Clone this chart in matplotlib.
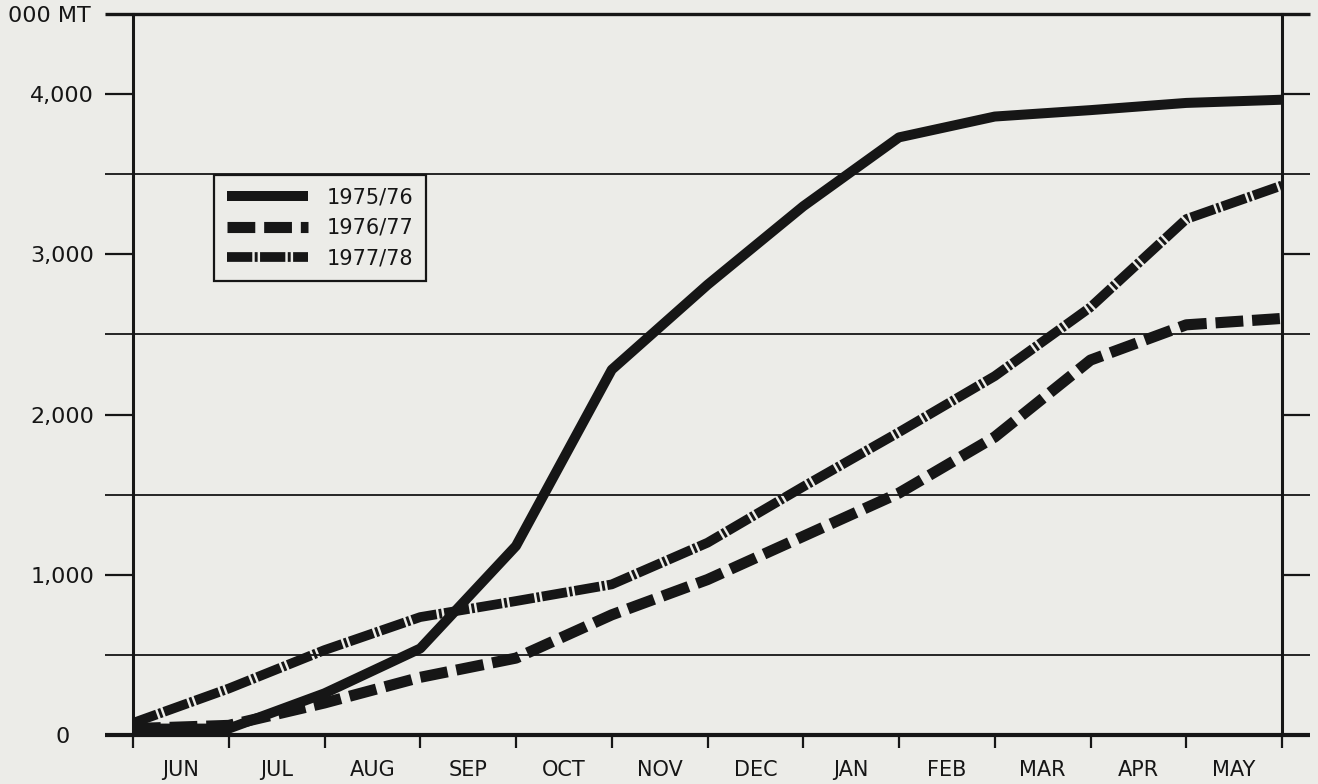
"""
Cumulative exports 1975/76 - 1977/78, thousand metric tons, by marketing month
(June-May). Redrawn from an old scanned report chart.
"""
import matplotlib
matplotlib.use('Agg')
import matplotlib.pyplot as plt
from matplotlib.transforms import blended_transform_factory

plt.rcParams['font.family'] = ['DejaVu Sans']

# ---- data (value at each month end) -----------------------------------------
months = ["JUN", "JUL", "AUG", "SEP", "OCT", "NOV",
          "DEC", "JAN", "FEB", "MAR", "APR", "MAY"]
month_ends = list(range(13))
y_1975_76 = [40, 40, 260, 540, 1180, 2280, 2810, 3300, 3730, 3860, 3900, 3945, 3965]
y_1976_77 = [40, 60, 200, 360, 480, 750, 970, 1240, 1510, 1860, 2340, 2560, 2600]
y_1977_78 = [75, 290, 530, 736, 836, 940, 1200, 1550, 1890, 2240, 2670, 3220, 3430]
y_ticks = [0, 1000, 2000, 3000, 4000]
y_tick_labels = ["0", "1,000", "2,000", "3,000", "4,000"]
grid_levels = [500, 1500, 2500, 3500]

BG = '#ECECE8'
INK = '#161616'

fig = plt.figure(figsize=(13.18, 7.84), dpi=100, facecolor=BG)
ax = fig.add_axes([133/1318, 49/784, 1149/1318, 721/784], facecolor=BG)
ax.set_xlim(0, 12)
ax.set_ylim(0, 4500)

# Horizontal rules stick out past both side axes
trans = blended_transform_factory(ax.transAxes, ax.transData)
ext = 28 / 1149
ax.hlines(grid_levels, -ext, 1 + ext, transform=trans, colors=INK, lw=1.3,
          clip_on=False, zorder=1)
ax.hlines([0], -ext, 1 + ext, transform=trans, colors=INK, lw=3.0,
          clip_on=False, zorder=5)
ax.hlines([4500], -ext, 1 + ext, transform=trans, colors=INK, lw=2.4,
          clip_on=False, zorder=5)

for side in ('top', 'bottom'):
    ax.spines[side].set_visible(False)
for side in ('left', 'right'):
    ax.spines[side].set_linewidth(2.2)
    ax.spines[side].set_color(INK)

# ---- series ----------------------------------------------------------------
l1, = ax.plot(month_ends, y_1975_76, color=INK, lw=7.2, solid_joinstyle='round',
              solid_capstyle='butt', zorder=4, label='1975/76')
l2, = ax.plot(month_ends, y_1976_77, color=INK, lw=8, dashes=(2.5, 0.8),
              dash_capstyle='butt', dash_joinstyle='round', zorder=3, label='1976/77')
l3, = ax.plot(month_ends, y_1977_78, color=INK, lw=7, dashes=(2.6, 0.25, 0.3, 0.25),
              dash_capstyle='butt', dash_joinstyle='round', zorder=3, label='1977/78')

# ---- axes ticks ------------------------------------------------------------
ax.set_yticks(y_ticks)
ax.set_yticklabels(y_tick_labels, fontsize=16, color=INK)
ax.tick_params(axis='y', which='major', direction='out', length=20, width=1.6,
               left=True, right=True, color=INK, pad=31)
for lab in ax.get_yticklabels():
    lab.set_ha('center')

ax.set_xticks(month_ends)
ax.set_xticklabels([])
ax.set_xticks([m + 0.5 for m in range(12)], minor=True)
ax.set_xticklabels(months, minor=True, fontsize=15, color=INK)
ax.tick_params(axis='x', which='major', direction='out', length=9, width=1.6, color=INK)
ax.tick_params(axis='x', which='minor', length=0, pad=18)

fig.text(8/1318, 1 - 16/784, "000 MT", fontsize=16, color=INK, ha='left', va='center')

leg = ax.legend(handles=[l1, l2, l3], loc='upper left',
                bbox_to_anchor=((214-133)/1149, (735-175)/721), borderaxespad=0,
                fontsize=15, frameon=True, fancybox=False, edgecolor=INK,
                facecolor=BG, framealpha=1, handlelength=3.9, handletextpad=0.9,
                labelspacing=0.5, borderpad=0.6)
leg.get_frame().set_linewidth(1.6)
leg.set_zorder(6)
for t in leg.get_texts():
    t.set_color(INK)

fig.savefig('out.png', dpi=100, facecolor=BG)
